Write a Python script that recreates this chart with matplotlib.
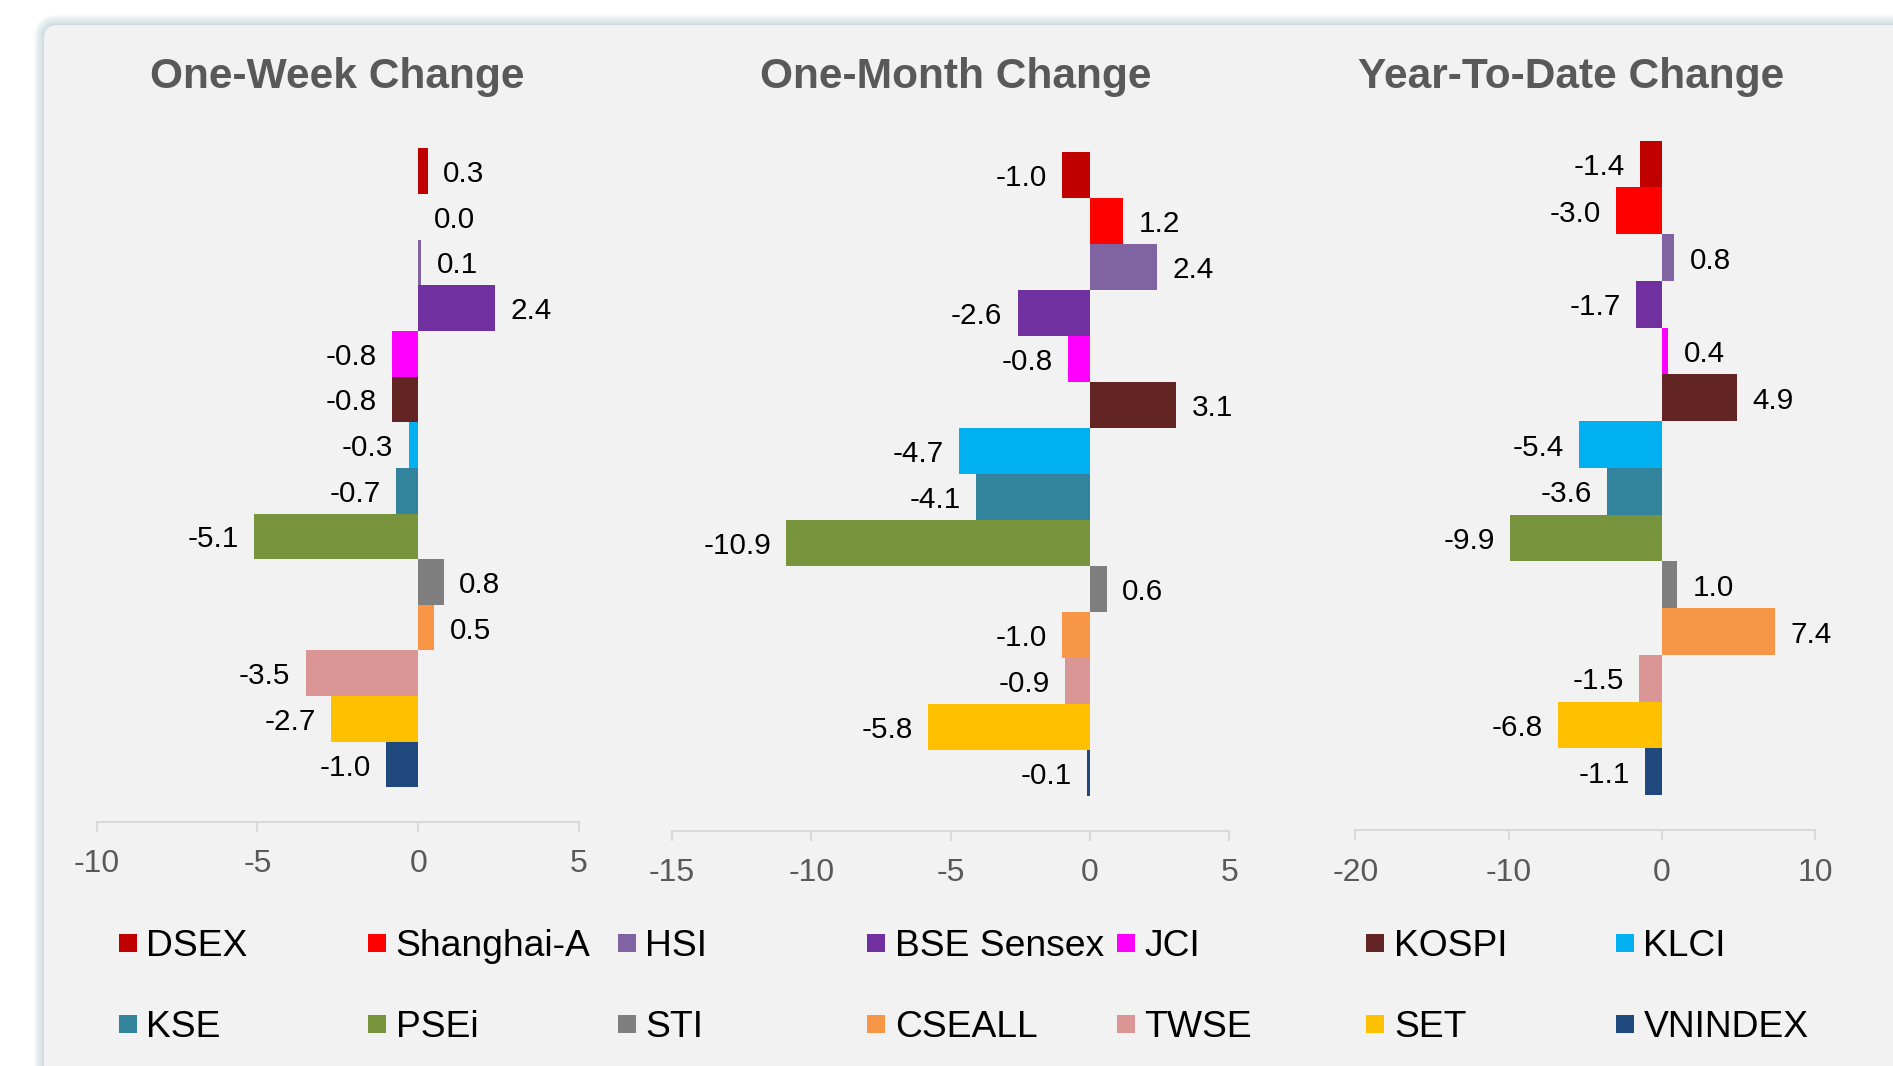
import numpy as np
import matplotlib.pyplot as plt
from matplotlib.patches import FancyBboxPatch

plt.rcParams['font.family'] = ['Liberation Sans', 'DejaVu Sans']
plt.rcParams['axes.unicode_minus'] = False

# -------------------------------
# Data
# -------------------------------
markets = ["DSEX", "Shanghai-A", "HSI", "BSE Sensex", "JCI", "KOSPI", "KLCI",
           "KSE", "PSEi", "STI", "CSEALL", "TWSE", "SET", "VNINDEX"]
colors = ["#C00000", "#FF0000", "#8064A2", "#7030A0", "#FF00FF", "#632523", "#00B0F0",
          "#31849B", "#77933C", "#7F7F7F", "#F79646", "#D99694", "#FFC000", "#1F497D"]

week_chg = [0.3, 0.0, 0.1, 2.4, -0.8, -0.8, -0.3, -0.7, -5.1, 0.8, 0.5, -3.5, -2.7, -1.0]
month_chg = [-1.0, 1.2, 2.4, -2.6, -0.8, 3.1, -4.7, -4.1, -10.9, 0.6, -1.0, -0.9, -5.8, -0.1]
ytd_chg = [-1.4, -3.0, 0.8, -1.7, 0.4, 4.9, -5.4, -3.6, -9.9, 1.0, 7.4, -1.5, -6.8, -1.1]

titles = ["One-Week Change", "One-Month Change", "Year-To-Date Change"]
x_limits = [(-10, 5), (-15, 5), (-20, 10)]
x_ticks = [[-10, -5, 0, 5], [-15, -10, -5, 0, 5], [-20, -10, 0, 10]]

# -------------------------------
# Layout (pixels)
# -------------------------------
W, H = 1893, 1066
fig = plt.figure(figsize=(W / 100, H / 100), dpi=100, facecolor="white")


def px_box(x0, x1, ytop, ybot):
    return [x0 / W, 1 - ybot / H, (x1 - x0) / W, (ybot - ytop) / H]


# background card with soft shadow
bg = fig.add_axes([0, 0, 1, 1], zorder=-1)
bg.set_xlim(0, W)
bg.set_ylim(H, 0)
bg.axis("off")
card_x, card_y = 44, 25
for k in range(10, 0, -1):
    bg.add_patch(FancyBboxPatch((card_x - k, card_y - k), W + 100, H + 100,
                                boxstyle=f"round,pad=0,rounding_size={14 + k}",
                                facecolor="#9FBCC9", edgecolor="none", alpha=0.06))
bg.add_patch(FancyBboxPatch((card_x, card_y), W + 100, H + 100,
                            boxstyle="round,pad=0,rounding_size=14",
                            facecolor="#F2F2F2", edgecolor="none"))

panel_boxes = [(96.6, 579, 148.3, 821.7),
               (672, 1229.3, 151.7, 830.7),
               (1355.3, 1815.3, 140.7, 830.3)]
title_x = [337, 955.6, 1570.8]
series = [week_chg, month_chg, ytd_chg]

y = np.arange(len(markets))
for vals, box, lim, ticks, title, tx in zip(series, panel_boxes, x_limits, x_ticks, titles, title_x):
    ax = fig.add_axes(px_box(*box))
    ax.set_facecolor("none")
    ax.barh(y, vals, height=1.0, color=colors, linewidth=0)
    for i, v in enumerate(vals):
        pad = 11 if v >= 0 else -11
        ax.annotate(f"{v:.1f}", (v, i), xytext=(pad, 0), textcoords="offset points",
                    ha="left" if v >= 0 else "right", va="center_baseline",
                    fontsize=21.3, color="black")
    ax.set_xlim(*lim)
    ax.set_ylim(14.25, -0.5)
    ax.set_xticks(ticks)
    ax.set_xticklabels([str(t) for t in ticks])
    ax.set_yticks([])
    for s in ["left", "right", "top"]:
        ax.spines[s].set_visible(False)
    ax.spines["bottom"].set_color("#D9D9D9")
    ax.spines["bottom"].set_linewidth(1.5)
    ax.tick_params(axis="x", direction="out", length=7.2, width=1.5, color="#D9D9D9",
                   pad=12.5, labelsize=23, labelcolor="#595959")
    fig.text(tx / W, 1 - 88 / H, title, ha="center", va="baseline",
             fontsize=30.6, fontweight="bold", color="#595959")

# -------------------------------
# Legend (7 columns x 2 rows, equal spacing)
# -------------------------------
leg = fig.add_axes(px_box(127.5, 1625, 942.7, 1023.5))
leg.set_xlim(0, 6)
leg.set_ylim(1, 0)
leg.axis("off")
for i, (name, c) in enumerate(zip(markets, colors)):
    col, row = i % 7, i // 7
    leg.scatter([col], [row], marker="s", s=187, color=c, linewidths=0, clip_on=False)
    leg.annotate(name, (col, row), xytext=(13.3, -9.6), textcoords="offset points",
                 ha="left", va="baseline", fontsize=26.8, color="black",
                 annotation_clip=False)

fig.savefig("out.png", dpi=100, facecolor="white")
